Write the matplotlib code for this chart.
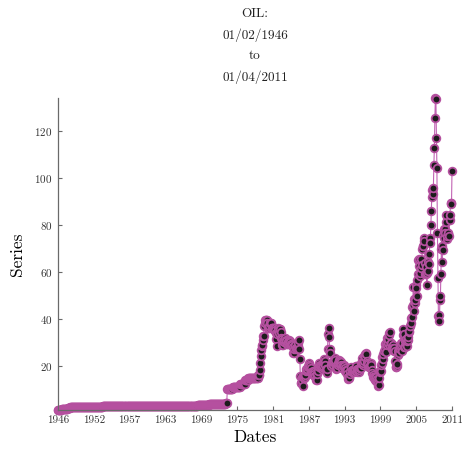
import matplotlib
matplotlib.use("Agg")
import matplotlib.pyplot as plt
import numpy as np
import pandas as pd

plt.rcParams["font.family"] = "cmr10"
plt.rcParams["axes.formatter.use_mathtext"] = True

# monthly spot oil price, one row per year
price_1946_1973 = [
    1.17, 1.17, 1.17, 1.17, 1.17, 1.17, 1.17, 1.52, 1.52, 1.52, 1.52, 1.52,
    1.52, 1.52, 1.52, 1.52, 1.52, 1.52, 1.52, 1.82, 1.82, 1.82, 1.82, 2.07,
    2.57, 2.57, 2.57, 2.57, 2.57, 2.57, 2.57, 2.57, 2.57, 2.57, 2.57, 2.57,
    2.57, 2.57, 2.57, 2.57, 2.57, 2.57, 2.57, 2.57, 2.57, 2.57, 2.57, 2.57,
    2.57, 2.57, 2.57, 2.57, 2.57, 2.57, 2.57, 2.57, 2.57, 2.57, 2.57, 2.57,
    2.57, 2.57, 2.57, 2.57, 2.57, 2.57, 2.57, 2.57, 2.57, 2.57, 2.57, 2.57,
    2.57, 2.57, 2.57, 2.57, 2.57, 2.57, 2.57, 2.57, 2.57, 2.57, 2.57, 2.57,
    2.57, 2.57, 2.57, 2.57, 2.57, 2.83, 2.83, 2.83, 2.83, 2.83, 2.83, 2.83,
    2.83, 2.83, 2.83, 2.83, 2.83, 2.83, 2.83, 2.83, 2.83, 2.83, 2.83, 2.83,
    2.83, 2.83, 2.83, 2.83, 2.83, 2.83, 2.83, 2.83, 2.83, 2.83, 2.83, 2.83,
    2.83, 2.83, 2.83, 2.83, 2.83, 2.83, 2.83, 2.83, 2.83, 2.83, 2.83, 2.83,
    2.83, 3.07, 3.07, 3.07, 3.07, 3.07, 3.07, 3.07, 3.07, 3.07, 3.07, 3.07,
    3.07, 3.07, 3.07, 3.07, 3.07, 3.07, 3.07, 3.07, 3.07, 3.07, 3.07, 3.07,
    3.07, 2.97, 2.97, 2.97, 2.97, 2.97, 2.97, 2.97, 2.97, 2.97, 2.97, 2.97,
    2.97, 2.97, 2.97, 2.97, 2.97, 2.97, 2.97, 2.97, 2.97, 2.97, 2.97, 2.97,
    2.97, 2.97, 2.97, 2.97, 2.97, 2.97, 2.97, 2.97, 2.97, 2.97, 2.97, 2.97,
    2.97, 2.97, 2.97, 2.97, 2.97, 2.97, 2.97, 2.97, 2.97, 2.97, 2.97, 2.97,
    2.97, 2.97, 2.97, 2.97, 2.97, 2.97, 2.97, 2.97, 2.97, 2.97, 2.97, 2.97,
    2.97, 2.97, 2.97, 2.97, 2.97, 2.97, 2.97, 2.97, 2.97, 2.97, 2.97, 2.97,
    2.97, 2.97, 2.97, 2.97, 2.97, 2.97, 2.97, 2.97, 2.97, 2.97, 2.97, 2.97,
    2.97, 2.97, 2.97, 2.97, 2.97, 2.97, 2.97, 2.97, 2.97, 2.97, 2.97, 2.97,
    2.97, 2.97, 2.97, 2.97, 2.97, 2.97, 2.97, 2.97, 2.97, 2.97, 2.97, 2.97,
    2.97, 2.97, 2.97, 2.97, 2.97, 2.97, 2.97, 2.97, 2.97, 2.97, 2.97, 2.97,
    2.97, 3.09, 3.09, 3.09, 3.09, 3.09, 3.09, 3.09, 3.09, 3.09, 3.09, 3.09,
    3.35, 3.35, 3.35, 3.35, 3.35, 3.35, 3.35, 3.35, 3.35, 3.35, 3.35, 3.35,
    3.56, 3.56, 3.56, 3.56, 3.56, 3.56, 3.56, 3.56, 3.56, 3.56, 3.56, 3.56,
    3.56, 3.56, 3.56, 3.56, 3.56, 3.56, 3.56, 3.56, 3.56, 3.56, 3.56, 3.56,
    3.56, 3.56, 3.56, 3.56, 3.56, 3.56, 3.66, 3.66, 3.66, 4.31, 4.31, 4.31,
]
price_1974_1985 = [
    10.11, 10.11, 10.11, 10.11, 10.11, 10.11, 10.11, 10.11, 10.11, 10.11, 10.11, 11.16,
    11.16, 11.16, 11.16, 11.16, 11.16, 11.16, 11.16, 11.16, 11.16, 11.16, 11.16, 11.16,
    11.16, 11.16, 12.17, 12.17, 12.17, 12.17, 12.17, 12.17, 12.17, 12.17, 12.17, 12.17,
    13.90, 13.90, 13.90, 13.90, 13.90, 13.90, 14.85, 14.85, 14.85, 14.85, 14.85, 14.85,
    14.85, 14.85, 14.85, 14.85, 14.85, 14.85, 14.85, 14.85, 14.85, 14.85, 14.85, 14.85,
    14.85, 15.85, 15.85, 15.85, 18.08, 21.00, 24.00, 26.50, 28.50, 29.00, 31.00, 32.50,
    32.50, 37.00, 38.00, 39.50, 39.50, 39.50, 39.50, 38.00, 36.00, 36.00, 36.00, 37.00,
    38.00, 38.00, 38.00, 38.00, 36.00, 36.00, 36.00, 36.00, 36.00, 35.00, 36.00, 35.00,
    33.85, 31.56, 28.48, 33.45, 35.93, 35.07, 34.16, 33.95, 35.63, 35.68, 34.15, 31.72,
    31.21, 28.92, 28.82, 30.61, 30.00, 31.00, 31.66, 31.90, 31.10, 30.36, 29.30, 29.20,
    29.70, 30.10, 30.80, 30.60, 30.50, 30.00, 28.80, 29.30, 29.30, 28.80, 28.10, 25.40,
    25.60, 27.30, 28.20, 28.80, 27.60, 27.10, 27.30, 27.80, 28.30, 29.50, 30.80, 27.20,
]
price_1986_1999 = [
    22.93, 15.45, 12.61, 12.84, 15.38, 13.43, 11.59, 15.10, 14.87, 14.90, 15.22, 16.11,
    18.65, 17.75, 18.30, 18.68, 19.44, 20.07, 21.34, 20.31, 19.53, 19.86, 18.85, 17.28,
    17.13, 16.80, 16.20, 17.86, 17.42, 16.53, 15.50, 15.52, 14.54, 13.77, 14.14, 16.38,
    18.02, 17.94, 19.48, 21.07, 20.12, 20.05, 19.78, 18.58, 19.59, 20.10, 19.86, 21.10,
    22.86, 22.11, 20.39, 18.43, 18.20, 16.70, 18.45, 27.31, 33.51, 36.04, 32.33, 27.28,
    25.23, 20.48, 19.90, 20.83, 21.23, 20.19, 21.40, 21.69, 21.89, 23.23, 22.46, 19.50,
    18.79, 19.01, 18.92, 20.23, 20.98, 22.39, 21.78, 21.34, 21.88, 21.69, 20.34, 19.41,
    19.03, 20.09, 20.32, 20.25, 19.95, 19.09, 17.89, 18.01, 17.50, 18.15, 16.61, 14.52,
    15.03, 14.78, 14.68, 16.42, 17.89, 19.06, 19.66, 18.38, 17.45, 17.72, 18.07, 17.16,
    18.04, 18.57, 18.54, 19.90, 19.74, 18.45, 17.33, 18.02, 18.23, 17.43, 17.99, 19.03,
    18.85, 19.09, 21.33, 23.50, 21.17, 20.42, 21.30, 21.90, 23.97, 24.88, 23.71, 25.23,
    25.13, 22.18, 20.97, 19.70, 20.82, 19.26, 19.66, 19.95, 19.80, 21.33, 20.19, 18.33,
    16.72, 16.06, 15.12, 15.35, 14.91, 13.72, 14.17, 13.47, 15.03, 14.46, 13.00, 11.35,
    12.52, 12.01, 14.68, 17.31, 17.72, 17.92, 20.10, 21.28, 23.80, 22.69, 25.00, 26.10,
]
price_2000_2011 = [
    27.26, 29.37, 29.84, 25.72, 28.79, 31.82, 29.70, 31.26, 33.88, 33.11, 34.42, 28.44,
    29.59, 29.61, 27.25, 27.49, 28.63, 27.60, 26.43, 27.37, 26.20, 22.17, 19.64, 19.39,
    19.72, 20.72, 24.53, 26.18, 27.04, 25.52, 26.97, 28.39, 29.66, 28.84, 26.35, 29.46,
    32.95, 35.83, 33.51, 28.17, 28.11, 30.66, 30.75, 31.57, 28.31, 30.34, 31.11, 32.13,
    34.31, 34.69, 36.74, 36.75, 40.28, 38.03, 40.78, 44.90, 45.94, 53.28, 48.47, 43.15,
    46.84, 48.15, 54.19, 52.98, 49.83, 56.35, 59.00, 64.99, 65.59, 62.26, 58.32, 59.41,
    65.49, 61.63, 62.69, 69.44, 70.84, 70.95, 74.41, 73.04, 63.80, 58.89, 59.08, 61.96,
    54.51, 59.28, 60.44, 63.98, 63.46, 67.49, 74.12, 72.36, 79.92, 85.80, 94.77, 91.69,
    92.97, 95.39, 105.45, 112.58, 125.40, 133.88, 133.37, 116.67, 104.11, 76.61, 57.31, 41.12,
    41.71, 39.09, 47.94, 49.65, 59.03, 69.64, 64.15, 71.05, 69.41, 75.72, 77.99, 74.47,
    78.33, 76.39, 81.20, 84.29, 73.74, 75.34, 76.32, 76.60, 75.24, 81.89, 84.25, 89.15,
    89.17, 88.58, 102.86,
]
prices = price_1946_1973 + price_1974_1985 + price_1986_1999 + price_2000_2011

start_date = "1946-02-01"
dates = pd.date_range(start_date, periods=len(prices), freq="MS")
year_labels = ["1946", "1952", "1957", "1963", "1969", "1975",
               "1981", "1987", "1993", "1999", "2005", "2011"]
y_ticks = [20, 40, 60, 80, 100, 120]

t = matplotlib.dates.date2num(dates)

fig = plt.figure(figsize=(4.62, 4.5), dpi=100)
ax = fig.add_axes([58 / 462, 1 - 410 / 450, 394 / 462, 312 / 450])

ax.plot(t, prices, color="#c264b4", lw=0.8, marker="o", markersize=5.5,
        markerfacecolor="#1c1c1c", markeredgecolor="#b5509f",
        markeredgewidth=1.3, clip_on=False)

ax.set_xlim(t[0], t[-1])
ax.set_ylim(min(prices), max(prices))
ax.set_xticks(np.linspace(t[0], t[-1], len(year_labels)))
ax.set_xticklabels(year_labels)
ax.set_yticks(y_ticks)

for s in ["top", "right"]:
    ax.spines[s].set_visible(False)
for s in ["left", "bottom"]:
    ax.spines[s].set_color("#6a6a6a")
    ax.spines[s].set_linewidth(0.9)
ax.tick_params(direction="in", length=3, width=0.8, color="#6a6a6a",
               labelsize=8, labelcolor="#333333", pad=4)

ax.set_xlabel("Dates", fontsize=12.5, labelpad=3)
ax.set_ylabel("Series", fontsize=12.5, labelpad=7)

fig.text(255 / 462, 1 - 46 / 450, "OIL:\n01/02/1946\nto\n01/04/2011",
         ha="center", va="center", fontsize=9.5, linespacing=1.85,
         color="#222222")

fig.savefig("out.png", dpi=100)
